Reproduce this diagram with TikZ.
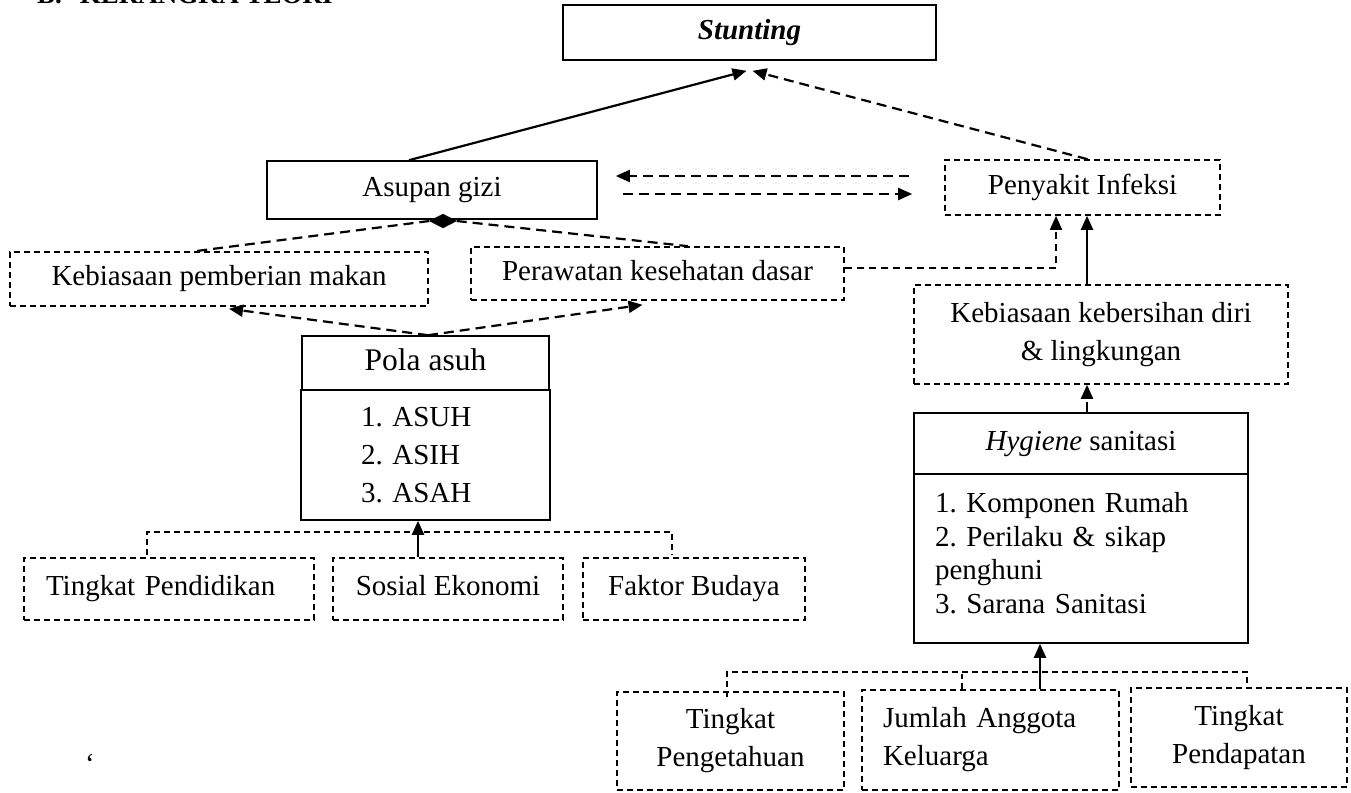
\documentclass[tikz,border=0pt]{standalone}
\usepackage{fontspec}
\setmainfont{Liberation Serif}
\usetikzlibrary{arrows.meta,shapes.geometric,calc}
\frenchspacing
\begin{document}
\frenchspacing
\begin{tikzpicture}[x=1pt,y=-1pt,
  txt/.style={font=\fontsize{29}{38}\selectfont},
  one/.style={text height=20pt,text depth=6.5pt},
  sbox/.style={draw,line width=1.6pt,inner sep=0pt,txt},
  dbox/.style={draw,line width=1.6pt,dash pattern=on 6pt off 4pt,inner sep=0pt,txt},
  arr/.style={line width=2.2pt,-{Triangle[length=14pt,width=12pt]}},
  dline/.style={line width=2.2pt,dash pattern=on 10pt off 6pt},
  darr/.style={dline,-{Triangle[length=14pt,width=12pt]}},
  tdash/.style={line width=1.6pt,dash pattern=on 6pt off 4pt},
  tdarr/.style={line width=1.8pt,dash pattern=on 7pt off 5pt,-{Triangle[length=14pt,width=12pt]}}
]
\useasboundingbox (0,0) rectangle (1351,792);

% heading (cut at top)
\node[anchor=base west,inner sep=0pt,font=\fontsize{27}{30}\selectfont\bfseries] (head) at (37,4) {B.\hspace{18pt}KERANGKA TEORI};

% nodes
\node[sbox,one,minimum width=373pt,minimum height=55pt,font=\fontsize{29}{38}\selectfont\bfseries\itshape] (stunting) at (749.5,32.5) {Stunting};
\node[sbox,one,minimum width=330pt,minimum height=58pt] (asupan) at (432,190) {Asupan gizi};
\node[dbox,one,minimum width=275pt,minimum height=55pt] (penyakit) at (1082.5,187.5) {Penyakit Infeksi};
\node[dbox,one,minimum width=418pt,minimum height=54pt] (kebmakan) at (219,279) {Kebiasaan pemberian makan};
\node[dbox,one,minimum width=373pt,minimum height=53pt] (perawatan) at (657.5,273.5) {Perawatan kesehatan dasar};
\node[dbox,minimum width=374pt,minimum height=99pt,align=center] (kebersihan) at (1101,334.5) {Kebiasaan kebersihan diri\\\& lingkungan};

\node[sbox,minimum width=247pt,minimum height=54pt,text height=21pt,text depth=6pt,font=\fontsize{31.5}{38}\selectfont] (polatitle) at (425.5,363) {Pola asuh};
\node[sbox,text width=129pt,inner xsep=60pt,minimum height=130pt,align=left] (polalist) at (425.5,455) {1. ASUH\\2. ASIH\\3. ASAH};

\node[dbox,one,text width=246pt,inner xsep=22pt,minimum height=62pt,align=left] (tdidik) at (169,589) {Tingkat Pendidikan};
\node[dbox,one,minimum width=230pt,minimum height=62pt] (sosial) at (448,589) {Sosial Ekonomi};
\node[dbox,one,minimum width=222pt,minimum height=62pt] (faktor) at (694,589) {Faktor Budaya};

\node[sbox,one,minimum width=334pt,minimum height=61pt] (hygtitle) at (1081,443.5) {\textit{Hygiene} sanitasi};
\node[sbox,text width=292pt,inner xsep=21pt,minimum height=169pt,text depth=112pt,align=left,font=\fontsize{29}{33.5}\selectfont] (hyglist) at (1081,558.5) {1. Komponen Rumah\\2. Perilaku \& sikap\\penghuni\\3. Sarana Sanitasi};

\node[dbox,minimum width=227pt,minimum height=98pt,align=center] (tpeng) at (730.5,741) {Tingkat\\Pengetahuan};
\node[dbox,text width=215pt,inner xsep=21pt,minimum height=100pt,align=left] (jumlah) at (990.5,740) {Jumlah Anggota\\Keluarga};
\node[dbox,minimum width=216pt,minimum height=99pt,align=center] (tdapat) at (1239,737.5) {Tingkat\\Pendapatan};

\node[diamond,draw,fill,inner sep=0pt,minimum width=27pt,minimum height=14pt] (dia) at (443,221) {};

\node[txt,inner sep=0pt] (tick) at (90,764) {‘};

% connectors
\draw[arr] ([xshift=-23pt]asupan.north) -- ([xshift=-3pt,yshift=-10pt]stunting.south);
\draw[darr] ([xshift=5pt]penyakit.north) -- ([xshift=3pt,yshift=-10pt]stunting.south);
\draw[darr] ([xshift=-35pt,yshift=11.5pt]penyakit.west) -- ([xshift=18pt,yshift=14pt]asupan.east);
\draw[darr] ([xshift=25pt,yshift=-4pt]asupan.east) -- ([xshift=-32pt,yshift=-6.5pt]penyakit.west);
\draw[dline] (dia.west) -- ([xshift=-24pt]kebmakan.north);
\draw[dline] (dia.east) -- ([xshift=30.5pt]perawatan.north);
\draw[darr] ([xshift=2.5pt]polatitle.north) -- ([xshift=10pt,yshift=-2pt]kebmakan.south);
\draw[darr] ([xshift=2.5pt]polatitle.north) -- ([xshift=-15pt,yshift=-4pt]perawatan.south);
\draw[tdarr] ([yshift=5.5pt]perawatan.east) -| ([xshift=-26.5pt]penyakit.south);
\draw[arr] ([xshift=-14pt]kebersihan.north) -- ([xshift=4.5pt]penyakit.south);
\draw[darr] ([xshift=6pt]hygtitle.north) -- ([xshift=-14pt]kebersihan.south);
\draw[arr] ([xshift=49.5pt]jumlah.north) -- ([xshift=-41pt]hyglist.south);
\draw[tdash] ([xshift=-3.5pt,yshift=-6pt]tpeng.north) -- ([xshift=-3.5pt,yshift=19pt]tpeng.north) -| ([xshift=8pt]tdapat.north);
\draw[tdash] ([xshift=-28.5pt]jumlah.north) -- ++(0,-15);
\draw[arr] ([xshift=-30pt]sosial.north) -- ([xshift=-7.5pt]polalist.south);
\draw[tdash] ([xshift=-22pt,yshift=2pt]tdidik.north) -- ++(0,-23) -| ([xshift=-22pt,yshift=2pt]faktor.north);
\end{tikzpicture}
\end{document}
